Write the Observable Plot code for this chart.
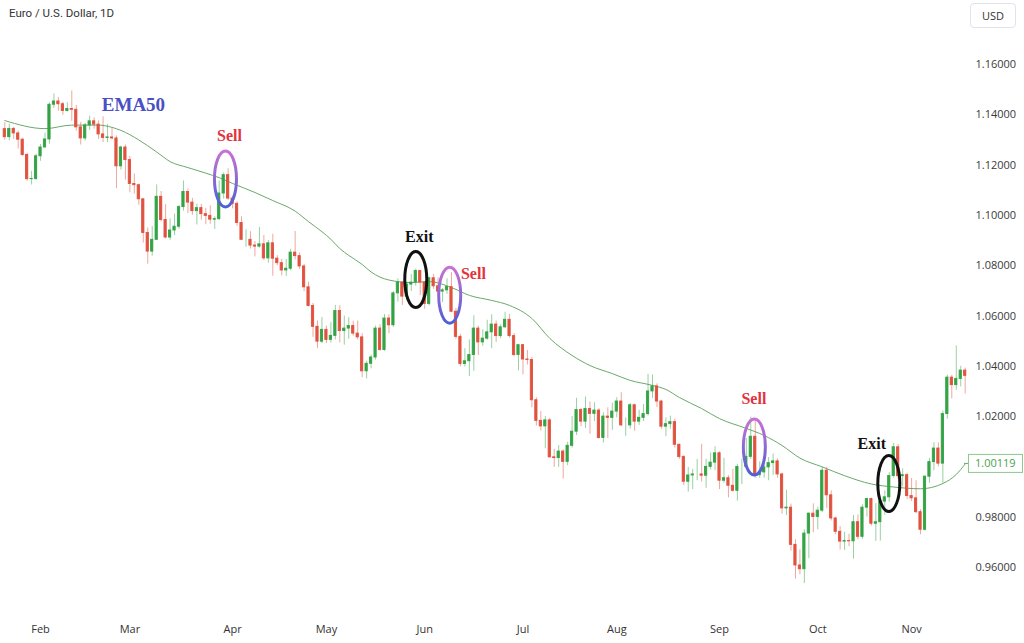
<!DOCTYPE html>
<html><head><meta charset="utf-8">
<script src="https://cdn.jsdelivr.net/npm/d3@7"></script>
<script src="https://cdn.jsdelivr.net/npm/@observablehq/plot@0.6"></script>
<style>
body{margin:0;background:#fff;}
#wrap{position:relative;width:1024px;height:643px;overflow:hidden;background:#fff;}
#wrap svg{display:block;position:absolute;left:0;top:0;}
#title{position:absolute;left:9px;top:6px;font:11.5px Roboto,sans-serif;color:#333;z-index:2;}
#usd{position:absolute;left:970px;top:3px;width:46px;height:25px;border:1px solid #e0e3eb;border-radius:4px;box-sizing:border-box;font:11px "Open Sans",sans-serif;color:#333;display:flex;align-items:center;justify-content:center;z-index:2;}
</style></head><body>
<div id="wrap"><div id="title">Euro / U.S. Dollar, 1D</div><div id="usd">USD</div></div>
<script>
// ---- data (EUR/USD daily, 2022-01-20 .. 2022-11-17, one value per trading day) ----
const firstDay = "2022-01-20", lastDay = "2022-11-17";
const open = [
1.1343,1.1311,1.1344,1.1326,1.1301,1.1240,1.1144,1.1145,1.1235,1.1270,
1.1302,1.1440,1.1453,1.1442,1.1415,1.1423,1.1420,1.1350,1.1306,1.1358,
1.1374,1.1361,1.1322,1.1308,1.1310,1.1306,1.1195,1.1270,1.1220,1.1125,
1.1120,1.1064,1.0930,1.0856,1.0903,1.1074,1.0982,1.0912,1.0940,1.0955,
1.1033,1.1093,1.1051,1.1017,1.1029,1.1005,1.0998,1.0983,1.0985,1.1087,
1.1160,1.1067,1.1046,1.0970,1.0903,1.0903,1.0880,1.0876,1.0885,1.0829,
1.0889,1.0828,1.0810,1.0781,1.0788,1.0852,1.0838,1.0797,1.0714,1.0640,
1.0557,1.0498,1.0545,1.0505,1.0521,1.0620,1.0540,1.0550,1.0560,1.0530,
1.0515,1.0380,1.0410,1.0435,1.0550,1.0465,1.0590,1.0563,1.0690,1.0733,
1.0677,1.0725,1.0733,1.0779,1.0733,1.0648,1.0750,1.0718,1.0697,1.0702,
1.0715,1.0617,1.0517,1.0409,1.0420,1.0445,1.0550,1.0495,1.0510,1.0535,
1.0566,1.0520,1.0555,1.0585,1.0520,1.0445,1.0484,1.0427,1.0425,1.0265,
1.0183,1.0161,1.0185,1.0038,1.0035,1.0061,1.0020,1.0084,1.0140,1.0226,
1.0180,1.0230,1.0211,1.0224,1.0115,1.0200,1.0195,1.0220,1.0260,1.0165,
1.0165,1.0245,1.0180,1.0195,1.0210,1.0300,1.0320,1.0260,1.0160,1.0170,
1.0178,1.0088,1.0039,0.9941,0.9966,0.9970,0.9970,0.9965,1.0000,1.0017,
1.0054,0.9945,0.9955,0.9925,0.9905,1.0000,1.0000,1.0040,1.0120,0.9967,
0.9978,0.9998,1.0015,1.0022,0.9970,0.9835,0.9838,0.9690,0.9608,0.9593,
0.9735,0.9814,0.9801,0.9826,0.9985,0.9887,0.9795,0.9742,0.9703,0.9705,
0.9704,0.9780,0.9722,0.9838,0.9872,0.9774,0.9780,0.9862,0.9879,0.9964,
1.0078,0.9963,0.9967,0.9884,0.9875,0.9820,0.9750,0.9961,1.0019,1.0073,
1.0013,1.0210,1.0355,1.0325,1.0350,1.0383];
const high = [
1.1369,1.1363,1.1350,1.1335,1.1307,1.1247,1.1175,1.1243,1.1282,1.1327,
1.1448,1.1483,1.1469,1.1450,1.1448,1.1495,1.1437,1.1370,1.1366,1.1395,
1.1388,1.1376,1.1392,1.1362,1.1345,1.1316,1.1275,1.1280,1.1235,1.1165,
1.1125,1.1066,1.0950,1.0955,1.1121,1.1095,1.1043,1.0986,1.1005,1.1040,
1.1137,1.1105,1.1068,1.1045,1.1044,1.1028,1.1038,1.0994,1.1137,1.1169,
1.1185,1.1077,1.1054,1.0995,1.0943,1.0935,1.0896,1.0952,1.0920,1.0900,
1.0925,1.0840,1.0825,1.0824,1.0865,1.0936,1.0850,1.0805,1.0735,1.0650,
1.0580,1.0594,1.0560,1.0575,1.0642,1.0641,1.0600,1.0593,1.0579,1.0580,
1.0530,1.0420,1.0445,1.0560,1.0565,1.0606,1.0605,1.0697,1.0748,1.0737,
1.0734,1.0765,1.0787,1.0780,1.0737,1.0755,1.0765,1.0752,1.0709,1.0748,
1.0773,1.0630,1.0527,1.0470,1.0505,1.0601,1.0560,1.0545,1.0583,1.0605,
1.0580,1.0565,1.0615,1.0606,1.0530,1.0488,1.0486,1.0463,1.0435,1.0275,
1.0220,1.0200,1.0193,1.0070,1.0085,1.0068,1.0098,1.0200,1.0273,1.0232,
1.0278,1.0258,1.0255,1.0232,1.0215,1.0235,1.0253,1.0275,1.0295,1.0195,
1.0253,1.0250,1.0225,1.0248,1.0368,1.0365,1.0330,1.0265,1.0195,1.0202,
1.0190,1.0090,1.0045,0.9998,0.9990,1.0030,1.0090,1.0030,1.0055,1.0080,
1.0060,1.0034,0.9965,0.9990,1.0010,1.0030,1.0113,1.0198,1.0187,1.0020,
1.0016,1.0037,1.0051,1.0032,0.9975,0.9907,0.9852,0.9710,0.9670,0.9750,
0.9817,0.9853,0.9840,0.9999,0.9998,0.9905,0.9800,0.9763,0.9740,0.9732,
0.9807,0.9809,0.9849,0.9875,0.9876,0.9854,0.9870,0.9905,0.9977,1.0093,
1.0089,0.9992,0.9975,0.9954,0.9945,0.9830,0.9965,1.0034,1.0096,1.0095,
1.0222,1.0365,1.0364,1.0481,1.0400,1.0393];
const low = [
1.1299,1.1297,1.1302,1.1264,1.1234,1.1136,1.1121,1.1139,1.1215,1.1268,
1.1283,1.1425,1.1415,1.1398,1.1411,1.1374,1.1335,1.1280,1.1296,1.1338,
1.1343,1.1302,1.1290,1.1289,1.1300,1.1106,1.1180,1.1140,1.1090,1.1085,
1.1040,1.0890,1.0806,1.0838,1.0900,1.0975,1.0906,1.0901,1.0920,1.0945,
1.1017,1.1007,1.1000,1.0962,1.0981,1.0963,1.0965,1.0944,1.0980,1.1065,
1.1060,1.1026,1.0957,1.0900,1.0873,1.0866,1.0835,1.0870,1.0820,1.0810,
1.0758,1.0800,1.0760,1.0757,1.0780,1.0823,1.0785,1.0697,1.0636,1.0515,
1.0470,1.0490,1.0490,1.0492,1.0505,1.0493,1.0484,1.0507,1.0520,1.0505,
1.0355,1.0350,1.0390,1.0425,1.0460,1.0460,1.0530,1.0555,1.0655,1.0642,
1.0664,1.0698,1.0718,1.0681,1.0627,1.0640,1.0706,1.0683,1.0653,1.0686,
1.0613,1.0507,1.0398,1.0397,1.0359,1.0380,1.0443,1.0480,1.0504,1.0470,
1.0495,1.0510,1.0550,1.0512,1.0437,1.0382,1.0366,1.0405,1.0235,1.0162,
1.0143,1.0072,1.0035,0.9998,0.9998,0.9952,1.0005,1.0075,1.0125,1.0160,
1.0153,1.0130,1.0180,1.0110,1.0095,1.0113,1.0145,1.0195,1.0160,1.0122,
1.0150,1.0142,1.0165,1.0180,1.0202,1.0272,1.0236,1.0150,1.0120,1.0150,
1.0075,1.0030,0.9926,0.9900,0.9910,0.9945,0.9940,0.9915,0.9988,0.9985,
0.9910,0.9935,0.9877,0.9900,0.9864,0.9930,0.9995,1.0030,0.9955,0.9955,
0.9955,0.9945,0.9966,0.9955,0.9812,0.9807,0.9665,0.9554,0.9571,0.9536,
0.9635,0.9738,0.9750,0.9818,0.9835,0.9785,0.9730,0.9670,0.9668,0.9683,
0.9633,0.9710,0.9712,0.9800,0.9765,0.9704,0.9705,0.9808,0.9860,0.9955,
0.9950,0.9920,0.9870,0.9862,0.9814,0.9730,0.9745,0.9935,0.9985,1.0000,
0.9935,1.0190,1.0270,1.0305,1.0318,1.0290];
const close = [
1.1311,1.1344,1.1326,1.1301,1.1240,1.1144,1.1145,1.1235,1.1270,1.1302,
1.1440,1.1453,1.1442,1.1415,1.1423,1.1420,1.1350,1.1306,1.1358,1.1374,
1.1361,1.1322,1.1308,1.1310,1.1306,1.1195,1.1270,1.1220,1.1125,1.1120,
1.1064,1.0930,1.0856,1.0903,1.1074,1.0982,1.0912,1.0940,1.0955,1.1033,
1.1093,1.1051,1.1017,1.1029,1.1005,1.0998,1.0983,1.0985,1.1087,1.1160,
1.1067,1.1046,1.0970,1.0903,1.0903,1.0880,1.0876,1.0885,1.0829,1.0889,
1.0828,1.0810,1.0781,1.0788,1.0852,1.0838,1.0797,1.0714,1.0640,1.0557,
1.0498,1.0545,1.0505,1.0521,1.0620,1.0540,1.0550,1.0560,1.0530,1.0515,
1.0380,1.0410,1.0435,1.0550,1.0465,1.0590,1.0563,1.0690,1.0733,1.0677,
1.0725,1.0733,1.0779,1.0733,1.0648,1.0750,1.0718,1.0697,1.0702,1.0715,
1.0617,1.0517,1.0409,1.0420,1.0445,1.0550,1.0495,1.0510,1.0535,1.0566,
1.0520,1.0555,1.0585,1.0520,1.0445,1.0484,1.0427,1.0425,1.0265,1.0183,
1.0161,1.0185,1.0038,1.0035,1.0061,1.0020,1.0084,1.0140,1.0226,1.0180,
1.0230,1.0211,1.0224,1.0115,1.0200,1.0195,1.0220,1.0260,1.0165,1.0165,
1.0245,1.0180,1.0195,1.0210,1.0300,1.0320,1.0260,1.0160,1.0170,1.0178,
1.0088,1.0039,0.9941,0.9966,0.9970,0.9970,0.9965,1.0000,1.0017,1.0054,
0.9945,0.9955,0.9925,0.9905,1.0000,1.0000,1.0040,1.0120,0.9967,0.9978,
0.9998,1.0015,1.0022,0.9970,0.9835,0.9838,0.9690,0.9608,0.9593,0.9735,
0.9814,0.9801,0.9826,0.9985,0.9887,0.9795,0.9742,0.9703,0.9705,0.9704,
0.9780,0.9722,0.9838,0.9872,0.9774,0.9780,0.9862,0.9879,0.9964,1.0078,
0.9963,0.9967,0.9884,0.9875,0.9820,0.9750,0.9961,1.0019,1.0073,1.0013,
1.0210,1.0355,1.0325,1.0350,1.0383,1.0362];

// EMA50 at sample bars
const emaBar = [0,9,15,21,24,26,30,34,37,41,45,48,51,56,60,65,68,71,73,75,77,80,82,86,91,95,100,104,109,113,118,122,127,131,136,140,145,148,151,156,160,166,170,174,178,183,188,194,199,205,210,213,215];
const emaValue = [1.1377,1.1345,1.1359,1.1359,1.1350,1.1338,1.1300,1.1252,1.1214,1.1190,1.1168,1.1150,1.1127,1.1091,1.1059,1.1017,1.0975,1.0935,1.0905,1.0868,1.0841,1.0805,1.0775,1.0743,1.0733,1.0737,1.0713,1.0682,1.0662,1.0642,1.0590,1.0511,1.0443,1.0403,1.0371,1.0344,1.0324,1.0308,1.0276,1.0232,1.0192,1.0153,1.0125,1.0085,1.0035,1.0000,0.9965,0.9932,0.9920,0.9913,0.9934,0.9970,1.00119];

const yTicks = [0.96,0.98,1.02,1.04,1.06,1.08,1.10,1.12,1.14,1.16];
const monthLabels = ["Feb","Mar","Apr","May","Jun","Jul","Aug","Sep","Oct","Nov"];

// annotations
const noteText  = ["EMA50","Sell","Exit","Sell","Sell","Exit"];
const noteKind  = ["ema","sell","exit","sell","sell","exit"];
const noteBar   = [28.8, 50.3, 92.8, 104.9, 167.7, 194.1];
const notePrice = [1.1441, 1.1318, 1.0916, 1.0767, 1.0272, 1.0093];
const ringKind  = ["sell","exit","sell","sell","exit"];
const ringBar   = [49.4, 92.0, 99.6, 167.8, 197.9];
const ringPrice = [1.1145, 1.0745, 1.0683, 1.0079, 0.9934];

// ---- build ----
const W = 1024, H = 643, MR = 59;
const green = "#34a345", red = "#e0523f";
const dates = d3.utcDays(new Date(firstDay), d3.utcDay.offset(new Date(lastDay), 1)).filter(d => d.getUTCDay() % 6 !== 0);
const bars = dates.map((d, i) => ({i, date: d, open: open[i], high: high[i], low: low[i], close: close[i], col: close[i] >= open[i] ? green : red}));
const monthTicks = bars.filter((b, i) => i > 0 && b.date.getUTCMonth() !== bars[i-1].date.getUTCMonth()).map(b => b.i);
const ema = emaBar.map((b, k) => ({bar: b, value: emaValue[k]}));
const notes = noteText.map((t, k) => ({text: t, kind: noteKind[k], bar: noteBar[k], price: notePrice[k]}));
const rings = ringKind.map((k, j) => ({kind: k, bar: ringBar[j], price: ringPrice[j]}));
const lastBar = bars.length - 1;

const ellipse = {draw(ctx) {
  const rx = 11, ry = 28, k = 0.5523;
  ctx.moveTo(rx, 0);
  ctx.bezierCurveTo(rx, ry*k, rx*k, ry, 0, ry);
  ctx.bezierCurveTo(-rx*k, ry, -rx, ry*k, -rx, 0);
  ctx.bezierCurveTo(-rx, -ry*k, -rx*k, -ry, 0, -ry);
  ctx.bezierCurveTo(rx*k, -ry, rx, -ry*k, rx, 0);
  ctx.closePath();
}};

const chart = Plot.plot({
  width: W, height: H,
  marginTop: 0, marginLeft: 0, marginRight: MR, marginBottom: 30,
  x: {type: "linear", domain: [0, lastBar], range: [4.3, 964.7]},
  y: {domain: [0.96, 1.16], range: [567, 64]},
  color: {type: "identity"},
  style: {background: "#fff", fontFamily: "'Open Sans', sans-serif", color: "#333"},
  marks: [
    Plot.axisY({anchor: "right", ticks: yTicks, tickFormat: d3.format(".5f"), tickSize: 0, tickPadding: 10, fontSize: 11, color: "#3a3a3a"}),
    Plot.axisX({ticks: monthTicks, tickFormat: v => monthLabels[monthTicks.indexOf(v)], tickSize: 0, tickPadding: 12, fontSize: 11, color: "#333"}),
    Plot.line(ema, {x: "bar", y: "value", stroke: "#6aa96a", strokeWidth: 1, curve: "monotone-x"}),
    Plot.ruleX(bars, {x: "i", y1: "low", y2: "high", stroke: "col", strokeOpacity: 0.5, strokeWidth: 1}),
    Plot.rect(bars, {x1: d => d.i - 0.25, x2: d => d.i + 0.25, y1: "open", y2: "close", fill: "col", stroke: "col", strokeWidth: 0.9}),
    Plot.dot(rings.filter(r => r.kind === "sell"), {x: "bar", y: "price", symbol: ellipse, fill: "none", stroke: "url(#sellGrad)", strokeWidth: 3}),
    Plot.dot(rings.filter(r => r.kind === "exit"), {x: "bar", y: "price", symbol: ellipse, fill: "none", stroke: "#111", strokeWidth: 3}),
    Plot.text(notes.filter(n => n.kind === "sell"), {x: "bar", y: "price", text: "text", fill: "#e2333f", fontFamily: "'Liberation Serif', serif", fontWeight: "bold", fontSize: 16}),
    Plot.text(notes.filter(n => n.kind === "exit"), {x: "bar", y: "price", text: "text", fill: "#111", fontFamily: "'Liberation Serif', serif", fontWeight: "bold", fontSize: 16}),
    Plot.text(notes.filter(n => n.kind === "ema"), {x: "bar", y: "price", text: "text", fill: "#4a4fc4", fontFamily: "'Liberation Serif', serif", fontWeight: "bold", fontSize: 19})
  ]
});

const svg = d3.select(chart);
const defs = svg.insert("defs", ":first-child");
const grad = defs.append("linearGradient").attr("id", "sellGrad").attr("x1", 0).attr("y1", 0).attr("x2", 0).attr("y2", 1);
grad.append("stop").attr("offset", "0%").attr("stop-color", "#c872d4");
grad.append("stop").attr("offset", "100%").attr("stop-color", "#4e60d6");

// current EMA value label on the price scale
const lastEma = emaValue[emaValue.length - 1];
const yy = chart.scale("y").apply(lastEma);
const axisX0 = W - MR;
const lab = svg.append("g").attr("text-anchor", "start");
lab.append("line").attr("x1", axisX0 - 1).attr("x2", axisX0 + 4).attr("y1", yy).attr("y2", yy).attr("stroke", "#6aa96a");
lab.append("rect").attr("x", axisX0 + 3.5).attr("y", yy - 9).attr("width", 54).attr("height", 18).attr("fill", "#fff").attr("stroke", "#8cc98c");
lab.append("text").attr("x", axisX0 + 10).attr("y", yy).attr("dy", "0.35em").attr("text-anchor", "start").attr("fill", "#47a34f").attr("font-size", 11).attr("font-family", "'Open Sans', sans-serif").text(d3.format(".5f")(lastEma));

document.getElementById("wrap").prepend(chart);
</script>
</body></html>
